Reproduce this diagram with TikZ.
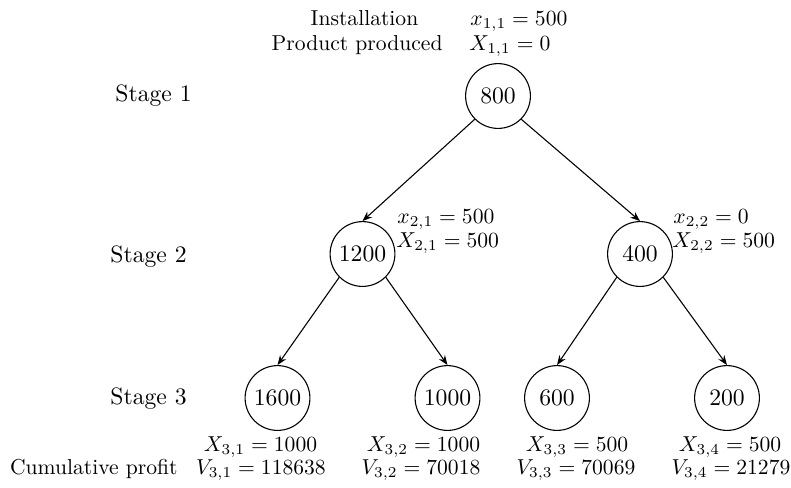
\documentclass[tikz,border=0pt]{standalone}
\usetikzlibrary{arrows.meta}
\newcommand{\elevenpt}{\fontsize{10.95}{13.6}\selectfont}
\begin{document}
\begin{tikzpicture}[x=0.463pt,y=-0.463pt,
  st/.style={circle,draw,line width=0.5pt,minimum size=30pt,inner sep=0pt,font=\elevenpt},
  stagelab/.style={anchor=base,inner sep=0pt,font=\elevenpt},
  lab/.style={anchor=base west,inner sep=0pt},
  clab/.style={anchor=base,inner sep=0pt},
  arr/.style={-{Stealth[length=4.5pt,width=3.4pt]},line width=0.5pt}]
\useasboundingbox (0,0) rectangle (791,487);
% tree nodes
\node[st] (n800) at (498,96) {800};
\node[st] (n1200) at (362.5,254) {1200};
\node[st] (n400) at (640,254) {400};
\node[st] (n1600) at (277.5,398) {1600};
\node[st] (n1000) at (447.5,398) {1000};
\node[st] (n600) at (557,398) {600};
\node[st] (n200) at (727,398) {200};
% stage labels
\node[stagelab] (s1) at (153.5,101) {Stage 1};
\node[stagelab] (s2) at (148.5,262) {Stage 2};
\node[stagelab] (s3) at (148.5,404) {Stage 3};
% top labels
\node[clab] (inst) at (364.5,25) {Installation};
\node[clab,anchor=base east] (prod) at (443,50) {Product produced};
\node[lab] (x11) at (470,25) {$x_{1,1}=500$};
\node[lab] (X11) at (469,50) {$X_{1,1}=0$};
% stage 2 labels
\node[lab] (x21) at (397,223) {$x_{2,1}=500$};
\node[lab] (X21) at (396,247) {$X_{2,1}=500$};
\node[lab] (x22) at (673,223) {$x_{2,2}=0$};
\node[lab] (X22) at (672,247) {$X_{2,2}=500$};
% stage 3 labels
\node[clab] (X31) at (260.5,451) {$X_{3,1}=1000$};
\node[clab] (X32) at (423.5,451) {$X_{3,2}=1000$};
\node[clab] (X33) at (577,451) {$X_{3,3}=500$};
\node[clab] (X34) at (730,451) {$X_{3,4}=500$};
\node[clab] (V31) at (261,474) {$V_{3,1}=118638$};
\node[clab] (V32) at (421,474) {$V_{3,2}=70018$};
\node[clab] (V33) at (576,474) {$V_{3,3}=70069$};
\node[clab] (V34) at (731,474) {$V_{3,4}=21279$};
\node[clab,anchor=base east] (cum) at (178,474) {Cumulative profit};
% connectors
\draw[arr] (n800.south west) -- (n1200.north);
\draw[arr] (n800.south east) -- (n400.north);
\draw[arr] (n1200.south west) -- (n1600.north);
\draw[arr] (n1200.south east) -- (n1000.north);
\draw[arr] (n400.south west) -- (n600.north);
\draw[arr] (n400.south east) -- (n200.north);
\end{tikzpicture}
\end{document}
